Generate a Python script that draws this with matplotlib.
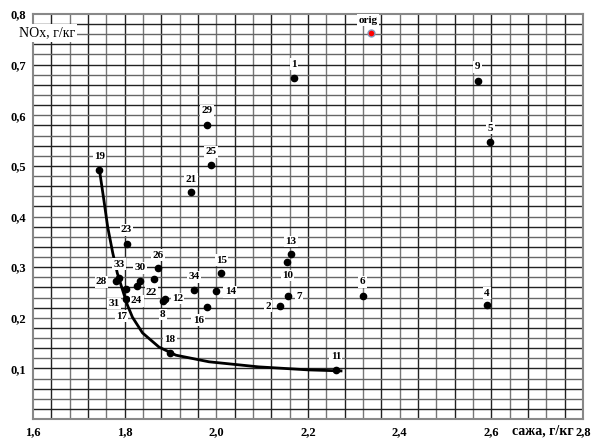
import matplotlib.pyplot as plt
import numpy as np

# точки: номер, сажа (г/кг), NOx (г/кг)
labels = ['1', '2', '4', '5', '6', '7', '8', '9', '10', '11', '12', '13', '14', '15',
          '16', '17', '18', '19', '21', '22', '23', '24', '25', '26', '28', '29', '30',
          '31', '33', '34']
soot = [2.170, 2.139, 2.590, 2.598, 2.319, 2.156, 1.883, 2.570, 2.155, 2.261, 1.889, 2.163, 2.000, 2.011,
        1.980, 1.802, 1.899, 1.745, 1.945, 1.865, 1.804, 1.826, 1.988, 1.873, 1.780, 1.980, 1.834,
        1.803, 1.787, 1.951]
nox = [0.673, 0.223, 0.225, 0.547, 0.243, 0.242, 0.234, 0.668, 0.311, 0.097, 0.238, 0.325, 0.253, 0.288,
       0.221, 0.237, 0.130, 0.492, 0.448, 0.276, 0.346, 0.263, 0.502, 0.298, 0.273, 0.581, 0.273,
       0.256, 0.278, 0.255]

# смещение подписи относительно точки (пиксели)
lab_dx = [0, -12, 0, 0, 0, 11, 0, 0, 0, 0, 12, 0, 14, 0,
          -9, -4, 0, 0, 0, -3, 0, 0, 0, 0, -14, 0, 0,
          -12, 0, 0]
lab_dy = [14, 0, 12, 14, 14, 0, -14, 14, -14, 13, 0, 13, -1, 13,
          -13, -17, 14, 13, 13, -13, 14, -15, 13, 13, -1, 14, 13,
          -14, 14, 13]

orig_soot = 2.337
orig_nox = 0.762

# аппроксимирующая кривая
curve_x = [1.745, 1.755, 1.763, 1.774, 1.784, 1.795, 1.806, 1.817, 1.839, 1.875, 1.912, 1.984, 2.092, 2.201, 2.272]
curve_y = [0.492, 0.430, 0.379, 0.328, 0.288, 0.256, 0.225, 0.201, 0.170, 0.142, 0.126, 0.113, 0.103, 0.097, 0.095]

xticks = [1.6, 1.8, 2.0, 2.2, 2.4, 2.6, 2.8]
xticklabels = ['1,6', '1,8', '2,0', '2,2', '2,4', '2,6', '2,8']
yticks = [0.1, 0.2, 0.3, 0.4, 0.5, 0.6, 0.7, 0.8]
yticklabels = ['0,1', '0,2', '0,3', '0,4', '0,5', '0,6', '0,7', '0,8']

plt.rcParams['font.family'] = ['Liberation Serif', 'DejaVu Serif']

fig = plt.figure(figsize=(5.92, 4.41), dpi=100)
ax = fig.add_axes([33/592, 22/441, 550/592, 405/441])
ax.set_xlim(1.6, 2.796)
ax.set_ylim(0, 0.8)

# сетка
for i, gx in enumerate(np.arange(1.64, 2.79, 0.04)):
    ax.axvline(gx, color='#222222' if i % 2 == 0 else '#777777', lw=1.0, zorder=1)
for i, gy in enumerate(np.arange(0.02, 0.79, 0.02)):
    ax.axhline(gy, color='#222222' if i % 2 == 0 else '#666666', lw=1.0, zorder=1)

for s in ax.spines.values():
    s.set_color('#888888')
    s.set_linewidth(1.5)

ax.plot(curve_x, curve_y, color='black', lw=2, zorder=3)
ax.plot(soot, nox, 'o', color='black', ms=4.5, zorder=4)
ax.plot([orig_soot], [orig_nox], 'o', color='red', mec='#8899bb', mew=1, ms=5, zorder=4)

px = 0.72
for lab, x, y, dx, dy in zip(labels, soot, nox, lab_dx, lab_dy):
    ax.annotate(lab, (x, y), xytext=(dx*px, dy*px), textcoords='offset points',
                ha='center', va='center', fontsize=8, fontweight='bold',
                bbox=dict(facecolor='white', edgecolor='none', pad=1), zorder=5)
ax.annotate('orig', (orig_soot, orig_nox), xytext=(-3*px, 13*px), textcoords='offset points',
            ha='center', va='center', fontsize=8, fontweight='bold',
            bbox=dict(facecolor='white', edgecolor='none', pad=1), zorder=5)

ax.set_xticks(xticks)
ax.set_xticklabels(xticklabels, fontsize=9, fontweight='bold')
ax.set_yticks(yticks)
ax.set_yticklabels(yticklabels, fontsize=9, fontweight='bold')
ax.tick_params(length=0, pad=5)

fig.text(47/592, 1 - 33/441, 'NOx, г/кг', ha='center', va='center', fontsize=10,
         bbox=dict(facecolor='white', edgecolor='none', pad=1.5), zorder=6)
fig.text(543/592, 1 - 431/441, 'сажа, г/кг', ha='center', va='center', fontsize=10,
         fontweight='bold', bbox=dict(facecolor='white', edgecolor='none', pad=1))

fig.savefig('out.png', dpi=100)
